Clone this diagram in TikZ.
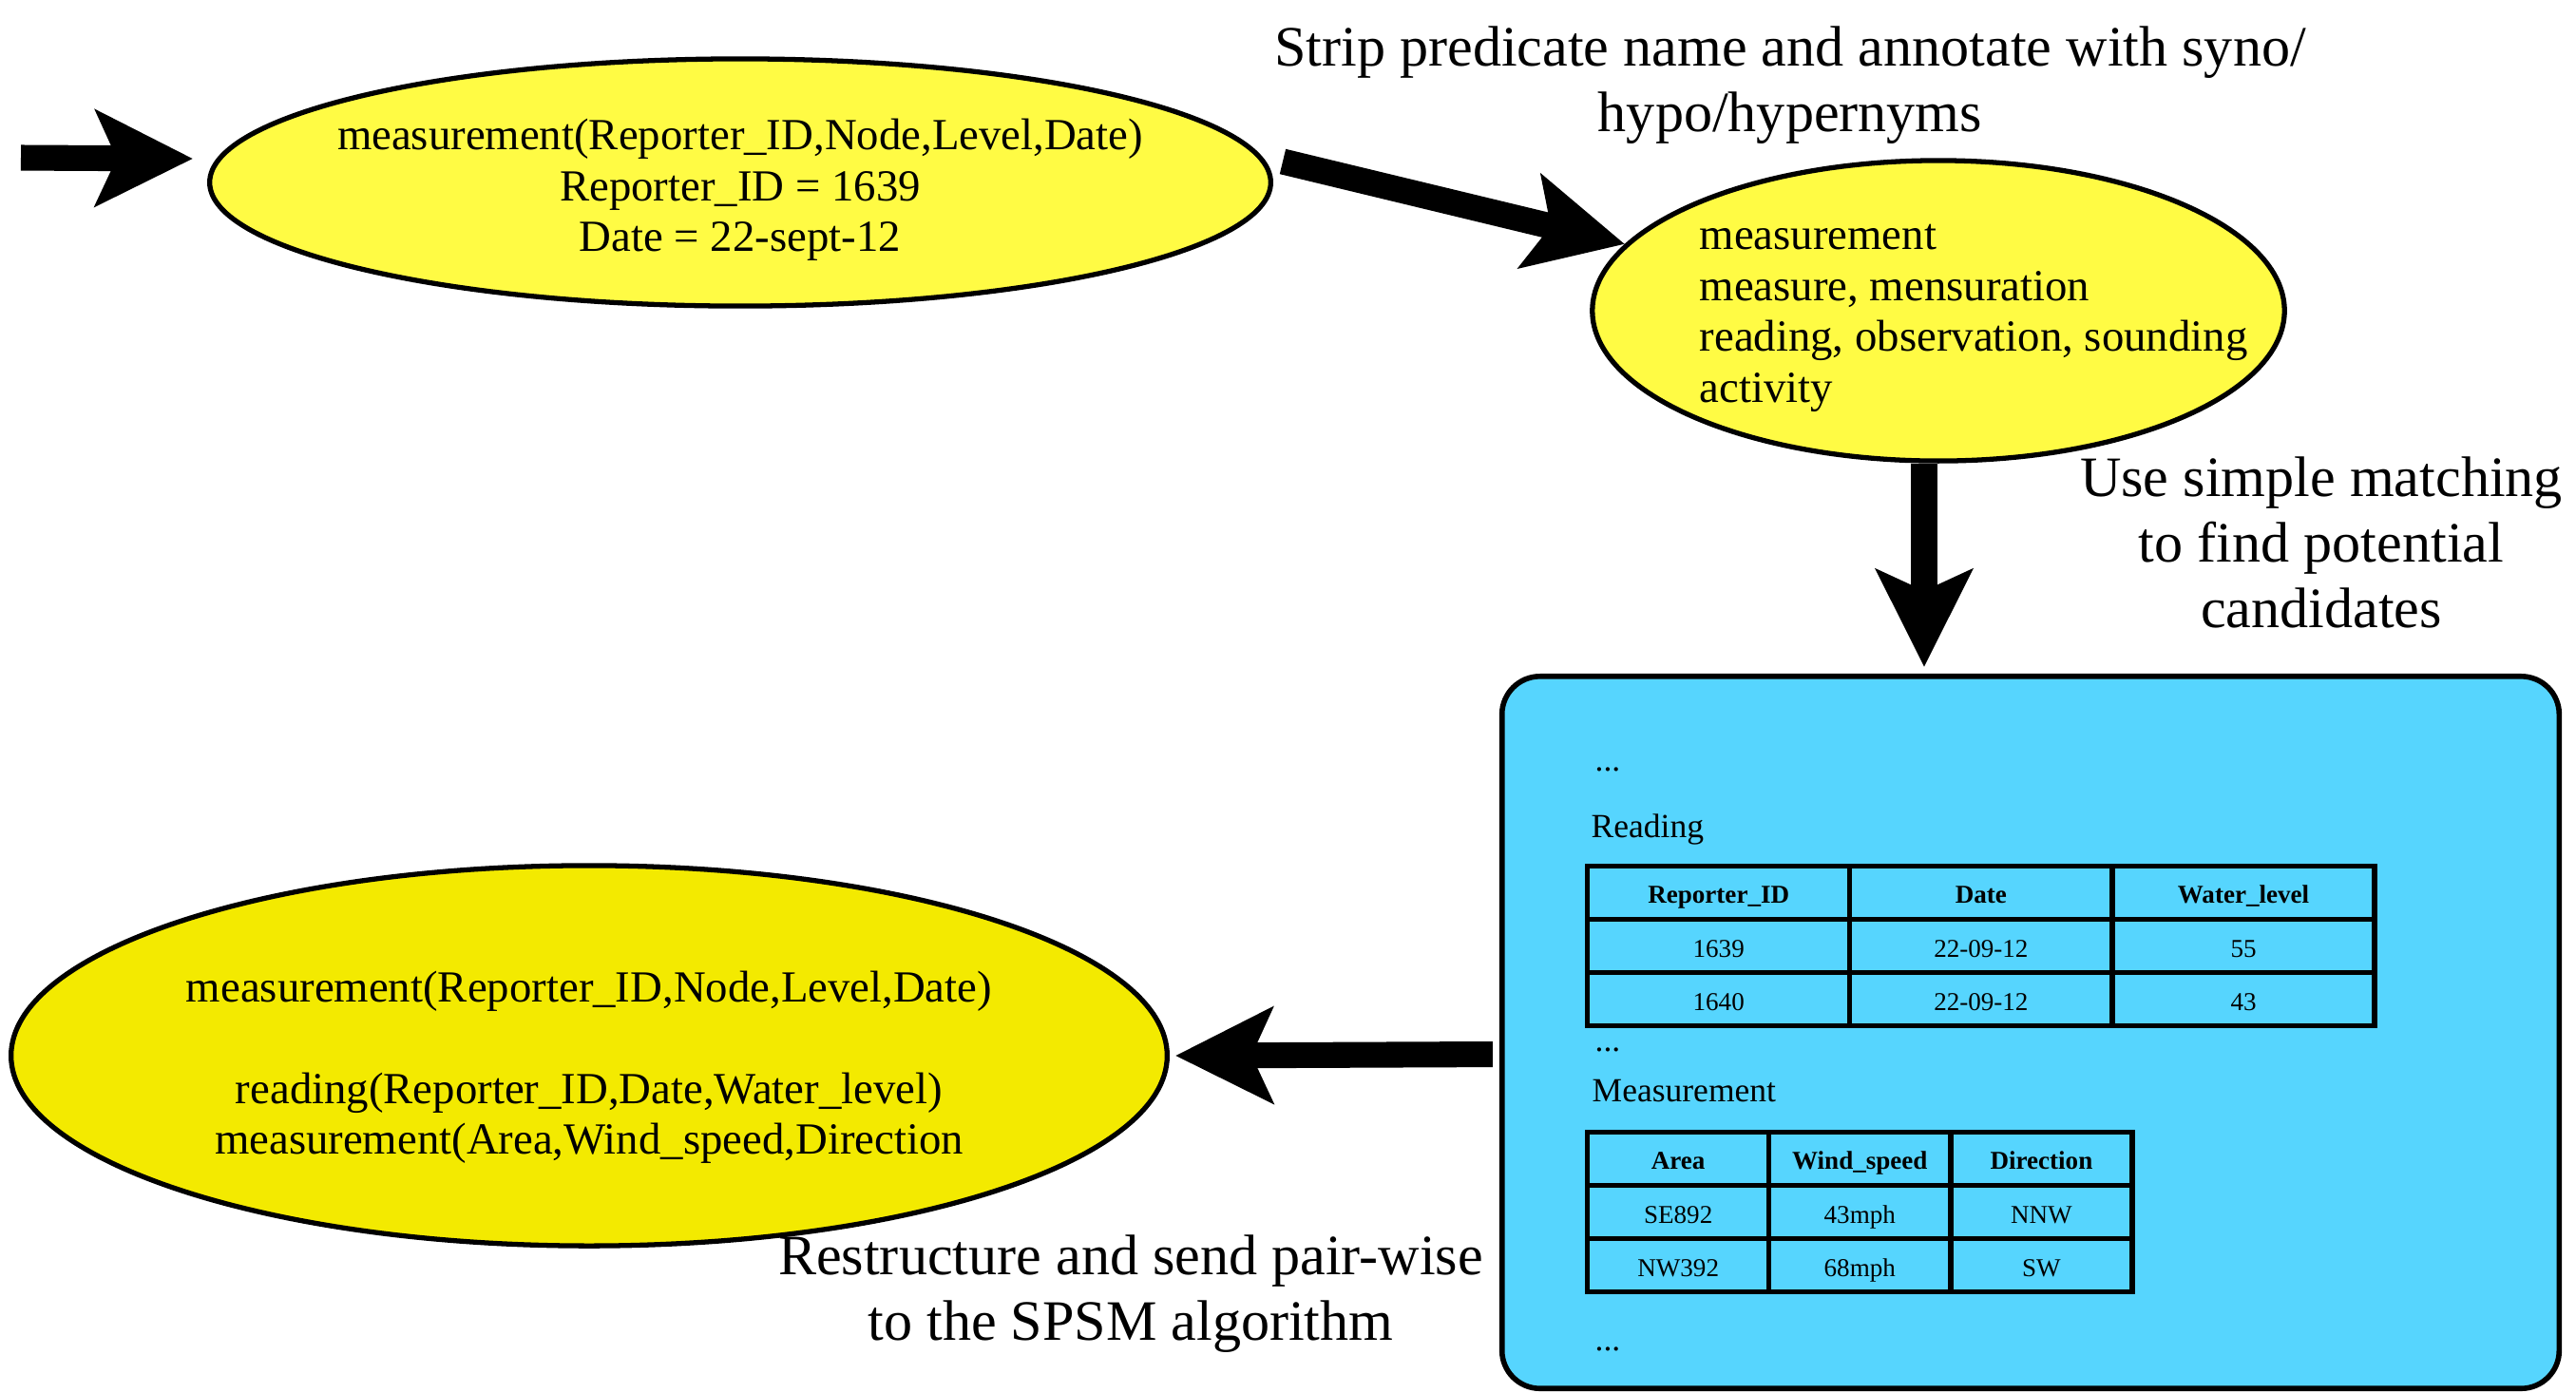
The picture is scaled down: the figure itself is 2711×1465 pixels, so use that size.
\documentclass[tikz,border=0pt]{standalone}
\usepackage{fontspec}
\setmainfont{Liberation Serif}
\usetikzlibrary{arrows.meta,shapes.geometric,matrix}
\definecolor{ylw}{RGB}{255,251,68}
\definecolor{ylwdeep}{RGB}{243,234,0}
\definecolor{sky}{RGB}{86,213,254}
\begin{document}
\begin{tikzpicture}[x=0.01cm,y=-0.01cm,
  bigarrow/.style={line width=7.7pt,-{Stealth[length=1.02cm,width=1.0cm,inset=0.22cm]}},
  ell/.style={ellipse, draw, line width=1.5pt, inner sep=0pt},
  smalltext/.style={font=\fontsize{13.3}{15.2}\selectfont, inner sep=0pt},
  bigtext/.style={font=\fontsize{17.1}{19.6}\selectfont, align=center, inner sep=0pt},
  boxtext/.style={font=\fontsize{10.1}{12}\selectfont, inner sep=0pt, anchor=west},
  tbl/.style={matrix of nodes, inner sep=0pt, outer sep=0pt, column sep=-1.5pt, row sep=-1.5pt,
    anchor=north west,
    nodes={draw, line width=1.5pt, outer sep=0pt, inner sep=0pt, minimum height=0.56cm,
      text height=1.6ex, text depth=0.2ex,
      font=\fontsize{7.7}{9}\selectfont, anchor=center},
    row 1/.style={nodes={font=\fontsize{7.7}{9}\selectfont\bfseries}}}
]
\useasboundingbox (0,0) rectangle (2711,1465);

% ellipses
\node[ell, fill=ylw, minimum width=11.16cm, minimum height=2.60cm] (e1) at (779,192) {};
\node[smalltext, align=center] (e1t) at (779,200) {measurement(Reporter\_ID,Node,Level,Date)\\Reporter\_ID = 1639\\Date = 22-sept-12};

\node[ell, fill=ylw, minimum width=7.28cm, minimum height=3.16cm] (e2) at (2040,327) {};
\node[smalltext, align=left, anchor=west] (e2t) at (1788,335) {measurement\\measure, mensuration\\reading, observation, sounding\\activity};

\node[ell, fill=ylwdeep, minimum width=12.16cm, minimum height=4.0cm] (e3) at (620,1111) {};
\node[smalltext, align=center] (e3t) at (620,1123) {measurement(Reporter\_ID,Node,Level,Date)\\[15.2pt]reading(Reporter\_ID,Date,Water\_level)\\measurement(Area,Wind\_speed,Direction};

% box
\node[draw, line width=1.6pt, fill=sky, rounded corners=0.4cm, minimum width=11.12cm, minimum height=7.49cm, inner sep=0pt] (box) at (2137,1086.5) {};
\node[boxtext] (d1t) at (1678,810) {...};
\node[boxtext] (readlab) at (1674,873) {Reading};
\matrix (t1) [tbl, nodes={minimum width=2.76cm}] at (1668,909) {
  Reporter\_ID & Date & Water\_level \\
  1639 & 22-09-12 & 55 \\
  1640 & 22-09-12 & 43 \\
};
\node[boxtext] (d2t) at (1678,1105) {...};
\node[boxtext] (measlab) at (1675,1148) {Measurement};
\matrix (t2) [tbl, nodes={minimum width=1.91cm}] at (1668,1189) {
  Area & Wind\_speed & Direction \\
  SE892 & 43mph & NNW \\
  NW392 & 68mph & SW \\
};
\node[boxtext] (d3t) at (1678,1420) {...};

% labels
\node[bigtext] (lab1) at (1884,90) {Strip predicate name and annotate with syno/\\hypo/hypernyms};
\node[bigtext] (lab2) at (2443,571) {Use simple matching\\to find potential\\candidates};
\node[bigtext] (lab3) at (1190,1362) {Restructure and send pair-wise\\to the SPSM algorithm};

% arrows
\coordinate (in) at (22,166);
\draw[bigarrow] (in) -- ([xshift=-0.15cm,yshift=0.25cm]e1.west);
\draw[bigarrow] ([xshift=0.1cm,yshift=0.22cm]e1.east) -- (e2.168);
\coordinate (dn) at ([xshift=-0.15cm]e2.south);
\draw[bigarrow, shorten >=0.07cm] (dn) -- (dn |- box.north);
\coordinate (lf) at ([xshift=-0.07cm,yshift=-0.23cm]box.west);
\draw[bigarrow] (lf) -- ([xshift=0.06cm]e3.east);
\end{tikzpicture}
\end{document}
